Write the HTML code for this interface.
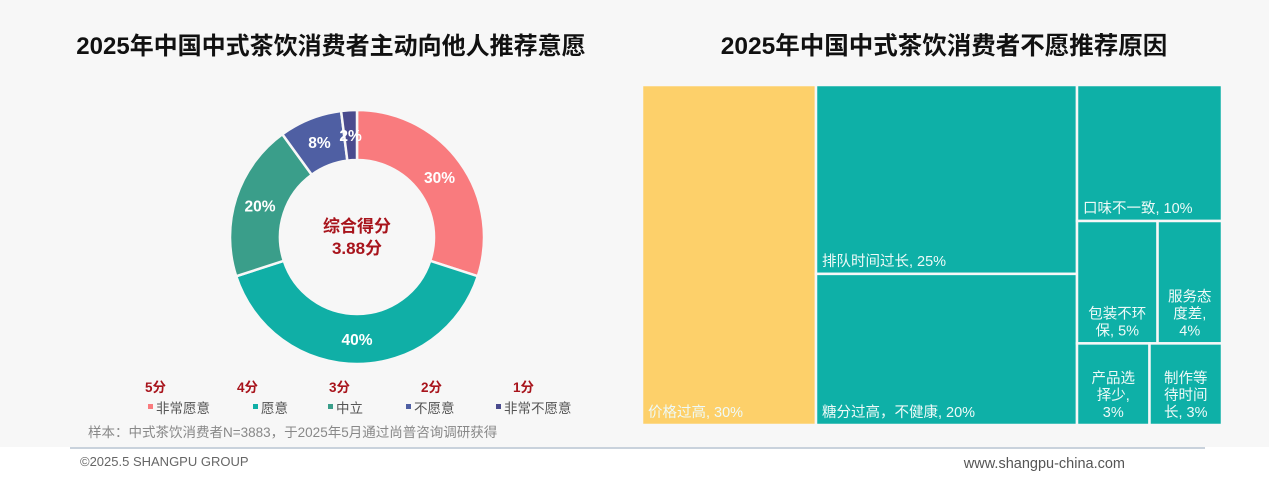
<!DOCTYPE html>
<html><head><meta charset="utf-8"><style>
body{margin:0;width:1269px;height:486px;background:#fff;font-family:"Liberation Sans","Noto Sans CJK SC",sans-serif;overflow:hidden}
#bg{position:absolute;left:0;top:0;width:1269px;height:447px;background:#f7f7f7}
svg{position:absolute;left:0;top:0}
</style></head><body>
<div id="bg"></div>
<svg width="1269" height="486" id="s">
<text x="331" y="54" text-anchor="middle" font-size="24" font-weight="bold" fill="#111">2025年中国中式茶饮消费者主动向他人推荐意愿</text>
<text x="944" y="54" text-anchor="middle" font-size="24.5" font-weight="bold" fill="#111">2025年中国中式茶饮消费者不愿推荐原因</text>
<g id="donut"></g>
<text x="357" y="232" text-anchor="middle" font-size="17" font-weight="bold" fill="#a8141c">综合得分</text>
<text x="357" y="254" text-anchor="middle" font-size="17" font-weight="bold" fill="#a8141c">3.88分</text>
<g id="legend"></g>
<text x="88" y="437" font-size="13.5" fill="#888">样本：中式茶饮消费者N=3883，于2025年5月通过尚普咨询调研获得</text>
<g id="tree"></g>
<line x1="70" y1="448" x2="1205" y2="448" stroke="#a9b8c8" stroke-width="1.2"/>
<text x="80" y="466" font-size="13" fill="#666">©2025.5 SHANGPU GROUP</text>
<text x="1125" y="468" text-anchor="end" font-size="14.5" fill="#555">www.shangpu-china.com</text>
</svg>
<script>
const donutLabels=["非常愿意","愿意","中立","不愿意","非常不愿意"];
const donutScores=["5分","4分","3分","2分","1分"];
const donutValues=[30,40,20,8,2];
const donutColors=["#f97b7e","#10afa6","#3a9e8a","#4f5fa3","#4a4b8e"];
const treeLabels=["价格过高, 30%","排队时间过长, 25%","糖分过高，不健康, 20%","口味不一致, 10%","包装不环|保, 5%","服务态|度差,|4%","产品选|择少,|3%","制作等|待时间|长, 3%"];
const treeValues=[30,25,20,10,5,4,3,3];
const NS="http://www.w3.org/2000/svg";
function mk(t,a,p){const e=document.createElementNS(NS,t);for(const k in a)e.setAttribute(k,a[k]);p.appendChild(e);return e;}
const cx=357,cy=237,R=127,r=77,dg=document.getElementById('donut');
const tot=donutValues.reduce((a,b)=>a+b,0);
let acc=0;
function pt(a,rad){return [cx+rad*Math.sin(a),cy-rad*Math.cos(a)];}
donutValues.forEach((v,i)=>{
 const a0=acc/tot*2*Math.PI,a1=(acc+v)/tot*2*Math.PI;acc+=v;
 const lg=a1-a0>Math.PI?1:0;
 const p0=pt(a0,R),p1=pt(a1,R),q1=pt(a1,r),q0=pt(a0,r);
 const p=mk('path',{d:`M${p0}A${R},${R} 0 ${lg} 1 ${p1}L${q1}A${r},${r} 0 ${lg} 0 ${q0}Z`,fill:donutColors[i],stroke:'#f7f7f7','stroke-width':2.5},dg);
 
 
 const m=(a0+a1)/2,lp=pt(m,(R+r)/2);
 const t=mk('text',{x:lp[0],y:lp[1]+6,'text-anchor':'middle','font-size':15.5,'font-weight':'bold',fill:'#fff'},dg);
 t.textContent=v+'%';
 
 
});
const lgG=document.getElementById('legend');
const lgX=[148,253,328,406,496];
donutLabels.forEach((l,i)=>{
 const sx=145+i*92;
 const s=mk('text',{x:sx,y:392,'font-size':13.5,'font-weight':'bold',fill:'#a8141c'},lgG);s.textContent=donutScores[i];
 
 
 const x=lgX[i];
 const sq=mk('rect',{x:x,y:404,width:5,height:5,fill:donutColors[i]},lgG);
 
 
 const t=mk('text',{x:x+8,y:413,'font-size':13.5,fill:'#555'},lgG);t.textContent=l;
 
 
});
const X0=642,Y0=85,W=580,H=340,tg=document.getElementById('tree');
const T=treeValues.reduce((a,b)=>a+b,0);
const cells=[];
const c1=treeValues[0]/T*W;
cells.push([X0,Y0,c1,H,0]);
const mid=treeValues[1]+treeValues[2],c2=mid/T*W;
const h1=treeValues[1]/mid*H;
cells.push([X0+c1,Y0,c2,h1,1]);cells.push([X0+c1,Y0+h1,c2,H-h1,2]);
const rx=X0+c1+c2,rw=W-c1-c2,rt=treeValues.slice(3).reduce((a,b)=>a+b,0);
const ha=treeValues[3]/rt*H;cells.push([rx,Y0,rw,ha,3]);
const rb=treeValues[4]+treeValues[5],hb=rb/rt*H;
const wb=treeValues[4]/rb*rw;
cells.push([rx,Y0+ha,wb,hb,4]);cells.push([rx+wb,Y0+ha,rw-wb,hb,5]);
const rc=treeValues[6]+treeValues[7],wc=treeValues[6]/rc*rw;
cells.push([rx,Y0+ha+hb,wc,H-ha-hb,6]);cells.push([rx+wc,Y0+ha+hb,rw-wc,H-ha-hb,7]);
cells.forEach(([x,y,w,h,i])=>{
 const rc=mk('rect',{x:x,y:y,width:w,height:h,fill:i==0?'#fdd06a':'#0eb0a7',stroke:'#f7f7f7','stroke-width':2.5},tg);
 
 
 const lines=treeLabels[i].split('|');
 const small=lines.length>1;
 lines.forEach((ln,j)=>{
  const ty=y+h-8-(lines.length-1-j)*17;
  const t=mk('text',{x:small?x+w/2:x+6,y:ty,'text-anchor':small?'middle':'start','font-size':14.5,fill:'#eefaf8'},tg);
  t.textContent=ln;
  
  
 });
});
</script>
</body></html>
